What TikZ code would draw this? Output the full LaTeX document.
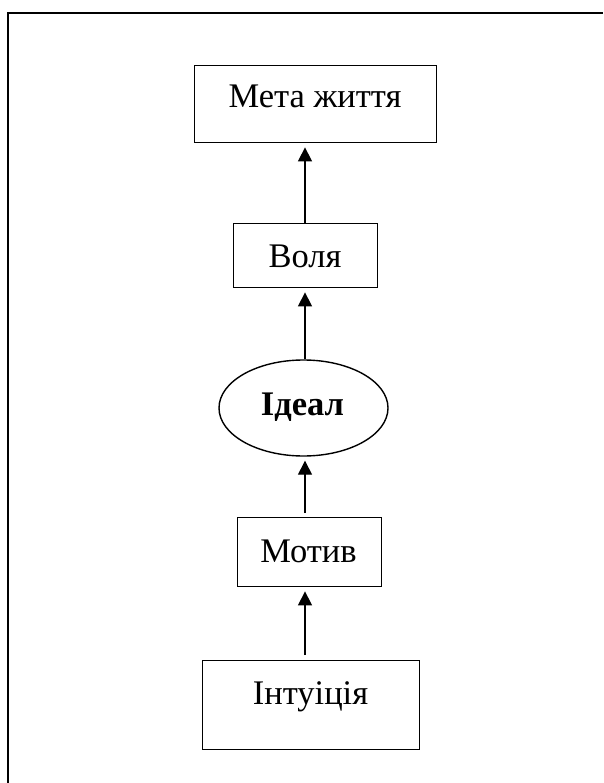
\documentclass[tikz,border=0pt]{standalone}
\usepackage{fontspec}
\setmainfont{Liberation Serif}
\usetikzlibrary{arrows.meta,shapes.geometric}
\begin{document}
\begin{tikzpicture}[x=1pt,y=-1pt,
  box/.style={draw,line width=1.4pt,inner sep=0pt,anchor=north west},
  lbl/.style={anchor=base,inner sep=0pt,font=\fontsize{34.5}{40}\selectfont},
  arr/.style={line width=1.4pt,-{Triangle[length=14pt,width=14pt]},shorten >=4pt},
  frame/.style={line width=2.2pt}]
\useasboundingbox (0,0) rectangle (603,783);
\draw[frame] (8.3,783) -- (8.3,13.3) -- (603,13.3);
% boxes
\node[box,minimum width=242pt,minimum height=77pt] (meta) at (193.5,65) {};
\node[box,minimum width=144pt,minimum height=64pt] (volia) at (233,223) {};
\node[draw,ellipse,line width=1.4pt,inner sep=0pt,minimum width=169pt,minimum height=96pt] (ideal) at (303.5,408) {};
\node[box,minimum width=144pt,minimum height=69pt] (motyv) at (237,517) {};
\node[box,minimum width=217pt,minimum height=89pt] (intuit) at (202,660) {};
% labels
\node[lbl] (tmeta) at (315,108) {Мета життя};
\node[lbl] (tvolia) at (305,267) {Воля};
\node[lbl,font=\fontsize{34.5}{40}\selectfont\bfseries] (tideal) at (302.5,415) {Ідеал};
\node[lbl] (tmotyv) at (308.5,562) {Мотив};
\node[lbl] (tintuit) at (310.5,704) {Інтуіція};
% arrows
\coordinate (ax) at (305,0);
\draw[arr] (volia.north -| ax) -- (meta.south -| ax);
\draw[arr] (ideal.north -| ax) -- (volia.south -| ax);
\draw[arr,shorten <=4pt] (motyv.north -| ax) -- (ideal.south -| ax);
\draw[arr,shorten <=5pt] (intuit.north -| ax) -- (motyv.south -| ax);
\end{tikzpicture}
\end{document}
